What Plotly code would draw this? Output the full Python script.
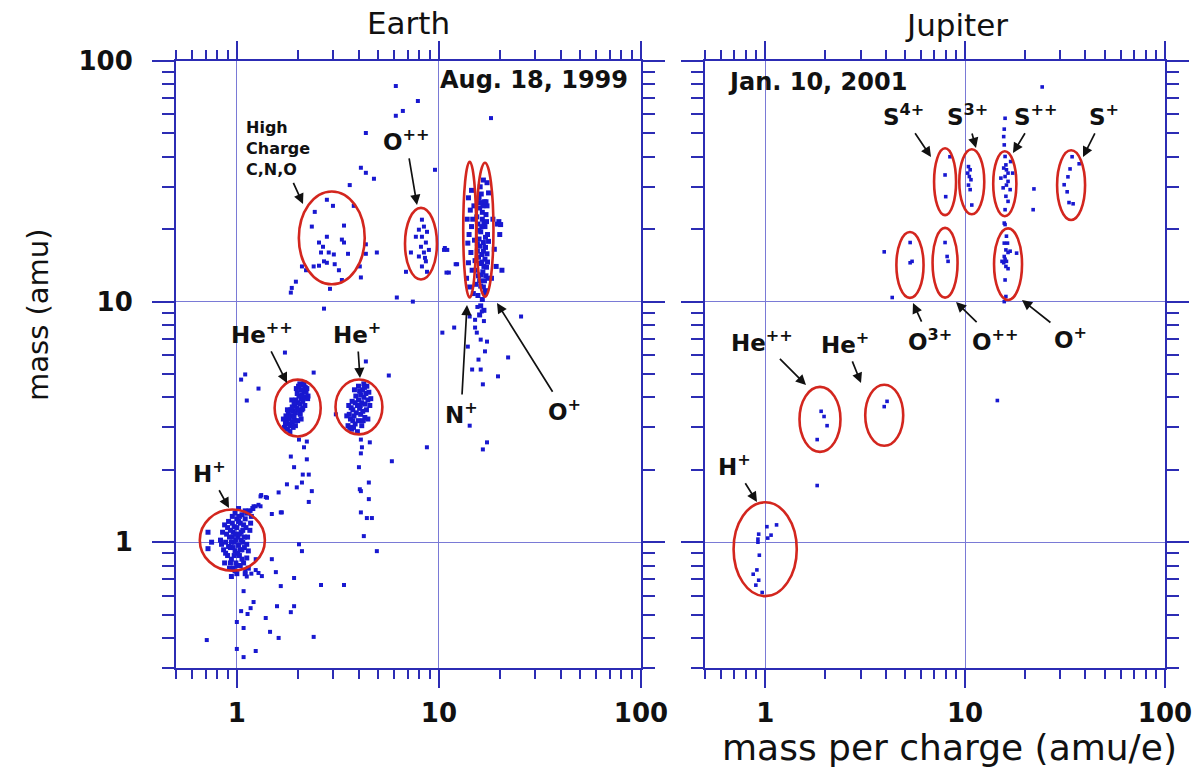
import numpy as np
import plotly.graph_objects as go

# ---------------- data ----------------
# Earth, Aug. 18, 1999 : (mass per charge [amu/e], mass [amu])
earth_hplus = [(0.85,1.10),(0.88,1.00),(0.90,1.15),(0.92,1.05),(0.93,0.95),(0.95,1.20),(0.96,1.10),
               (0.97,1.00),(0.98,0.92),(1.00,1.25),(1.00,1.15),(1.01,1.05),(1.02,0.97),(1.03,0.88),
               (1.04,1.20),(1.05,1.10),(1.06,1.30),(1.07,1.00),(1.08,1.18),(1.10,1.25),(1.12,1.32),
               (1.15,1.35),(0.90,0.88),(0.94,0.85),(0.99,0.82),(1.04,0.80),(0.92,0.78),(0.98,0.76),
               (1.08,0.82),(1.12,0.86),(0.86,0.93),(0.83,1.02),(0.95,1.28),(0.91,1.22),(1.09,0.95),
               (1.13,1.05),(1.16,1.12),(0.97,1.16),(1.01,0.90),(1.06,0.93),(0.94,1.00),(0.89,1.08),
               (1.03,1.08),(0.99,1.02),(1.05,1.02),(0.96,0.95),(1.11,1.15),(1.18,1.28),(0.87,0.82),
               (1.00,0.74),(0.94,0.72),(1.02,1.38),(0.98,1.32),(1.14,0.78),(1.10,0.74),
               (0.72,1.10),(0.75,1.00),(0.72,0.94),
               (0.84,0.98),(0.87,1.18),(0.93,1.12),(0.95,1.05),(0.97,0.88),(1.02,1.22),(1.04,0.93),
               (1.07,1.12),(1.09,1.05),(1.12,0.98),(0.91,0.96),(0.98,1.08),(1.03,1.28),(1.10,1.35),
               (1.00,0.80),(0.96,0.78),(1.06,0.85),(0.88,0.90),(1.17,1.20),(1.20,1.38),(1.14,0.92),
               (0.93,0.82)]
earth_hepp = [(1.72,3.00),(1.78,2.95),(1.80,3.10),(1.76,3.20),(1.84,3.05),(1.82,3.25),(1.88,3.15),
              (1.86,3.35),(1.80,3.40),(1.92,3.30),(1.90,3.50),(1.95,3.45),(1.85,3.55),(1.98,3.60),
              (1.93,3.70),(2.02,3.55),(2.00,3.80),(1.96,3.90),(2.05,3.75),(2.08,3.95),(2.03,4.05),
              (2.10,4.10),(2.12,3.85),(2.15,4.25),(2.07,4.30),(2.18,4.40),(2.20,4.20),(2.13,4.50),
              (1.74,3.12),(1.90,3.00),(2.00,3.20),(1.95,3.05),(2.06,3.40),(1.83,2.88),(2.10,3.55),
              (1.88,3.65),(2.17,4.00),(1.99,4.15),(1.79,3.30),(2.22,4.35),
              (1.75,3.35),(1.70,3.25),(1.92,3.80),(1.87,3.90),(2.12,3.60),(2.17,3.70),(2.25,4.05),
              (1.97,4.35),(2.02,4.45),(1.78,3.55),(2.24,3.95),(1.94,3.20),(2.08,3.25),(2.05,4.55),
              (2.15,4.60)]
earth_hep = [(3.55,3.05),(3.70,2.95),(3.85,3.10),(3.65,3.25),(3.80,3.35),(4.00,3.20),(3.90,3.45),
             (4.10,3.40),(3.75,3.55),(4.05,3.60),(4.20,3.50),(3.95,3.70),(4.15,3.80),(4.30,3.75),
             (4.00,3.90),(4.25,4.00),(4.10,4.10),(4.35,4.15),(4.20,4.30),(4.40,4.45),(4.05,4.25),
             (3.60,3.40),(3.85,3.80),(4.45,3.90),(4.30,3.30),(3.50,3.35),(4.15,3.05),(3.95,2.88),
             (4.50,4.20),(4.25,4.55),(3.78,3.00),(4.08,3.70),(3.68,3.62),(4.38,3.55),(3.88,4.05),
             (3.58,3.70),(3.72,3.85),(4.45,3.25),(4.55,3.70),(3.62,3.00),(4.00,4.45),(4.28,4.40),
             (3.82,4.30),(4.60,3.95),(3.75,3.20),(4.22,3.20)]
earth_highq = [(2.79,26.5),(2.99,25.0),(2.43,23.6),(2.35,20.5),(3.39,20.7),(2.79,18.6),(3.31,18.1),
               (3.39,17.6),(2.55,17.6),(2.67,16.9),(2.61,16.0),(2.85,16.0),(3.02,15.7),(3.55,15.8),
               (2.70,14.7),(2.79,14.5),(3.05,14.3),(2.55,14.1),(3.20,13.5),(2.10,14.0),(2.20,13.5),
               (2.40,14.0),(4.06,14.0),(4.35,17.3),(4.35,15.8),(3.79,25.0),(2.89,11.3),(3.31,12.3),
               (4.11,12.6),(4.93,16.0),(1.96,12.1),(1.87,11.4),(1.85,10.9),(2.70,9.35)]
earth_opp = [(8.24,21.9),(8.73,19.5),(8.24,18.6),(8.62,17.6),(8.15,16.9),(8.92,16.4),(8.43,16.0),
             (7.96,15.4),(8.62,14.7),(8.24,14.0),(8.73,13.3),(7.69,18.6),(7.27,16.0),(8.43,20.5),
             (7.96,19.9),(8.53,15.2),(6.87,13.3),(6.19,10.4),(7.43,10.0),(10.7,16.7),(11.0,16.4),
             (12.3,14.3),(11.2,13.2),(10.6,16.4),(12.1,14.3),(10.9,13.2)]
earth_no = [(16.2,28),(16.8,26),(15.9,24.5),(17.1,23),(16.4,22),(15.6,21),(16.9,20.5),(16.1,19.5),
            (17.4,19),(15.8,18.2),(16.6,17.6),(17.0,16.8),(15.5,16.2),(16.3,15.7),(16.9,15),
            (15.9,14.4),(17.2,13.9),(16.5,13.3),(15.7,12.8),(16.8,12.2),(16.1,11.6),(17.0,11.1),
            (15.6,10.6),(16.4,10.2),(16.0,30),(16.6,32),(17.3,25),(15.4,22.5),(16.7,21.3),
            (17.6,17.8),(16.0,17),(16.7,14),(15.3,13.5),(17.5,12.5),(16.2,12.9),(16.9,10.8),
            (15.8,27),(16.5,25),(17.0,18.5),(16.3,20.5),(15.7,15.3),(17.3,15.8),(16.6,11.5),
            (16.1,9.6),(16.7,9.2),(15.9,8.8),(19.5,21),(20.0,19),(18.5,22),(18.8,16.5),(19.2,14),
            (18.2,12.5),(20.5,13.5),(14.0,27),(14.3,24),(13.8,22),(14.5,20.5),(14.1,19),(13.9,17.5),
            (14.4,16),(14.0,14.5),(14.6,13.5),(13.7,12.5),(14.2,11.5),(14.8,10.8),(14.5,29),
            (14.9,25),(15.0,18),(15.1,14.8),(14.7,22),(15.2,11.8),(17.3,31.2),(17.6,28.3),
            (17.1,26.0),(19.8,21.5),(20.2,20.9),
            (16.4,23.5),(15.8,19.8),(17.2,21.5),(16.6,16.2),(15.9,12.2),(17.1,12.8),(16.3,14.6),
            (15.5,17.4),(17.4,14.6),(16.0,25.8)]
earth_scatter = [(1.17,1.35),(1.21,1.41),(1.28,1.43),(1.32,1.57),(1.39,1.54),(1.67,1.33),(1.31,1.55),
                 (1.41,1.53),(1.24,1.41),(1.31,1.41),(1.61,1.61),(2.35,1.63),(2.27,1.47),(1.65,1.33),
                 (1.49,1.31),(1.77,1.74),(1.98,1.69),(2.10,1.77),(2.03,2.67),(2.22,2.62),(2.15,2.48),
                 (1.85,2.27),(2.22,2.21),(1.92,2.05),(2.12,1.91),(2.27,1.91),(2.40,5.07),(1.28,4.35),
                 (5.65,4.93),(4.35,5.64),(5.85,2.17),(3.09,3.40),(1.05,4.74),(1.10,4.98),(1.12,3.88),
                 (1.73,6.14),(8.72,2.48),(4.11,2.67),(4.55,2.60),(4.16,2.48),(4.11,2.34),(4.02,2.05),
                 (4.50,1.77),(4.06,1.66),(4.11,1.63),(4.50,1.51),(4.11,1.33),(4.40,1.26),(4.66,1.26),
                 (4.25,1.06),(4.93,0.918),(2.03,0.98),(2.10,0.918),(1.49,0.85),(1.24,0.85),(1.56,0.751),
                 (1.92,0.710),(2.61,0.664),(3.39,0.664),(1.65,0.657),(1.08,0.626),(1.21,0.564),
                 (1.17,0.532),(1.05,0.517),(1.58,0.542),(1.92,0.542),(1.85,0.512),(1.13,0.503),
                 (1.39,0.484),(1.00,0.466),(1.08,0.44),(1.46,0.424),(1.61,0.40),(2.40,0.404),
                 (0.71,0.392),(1.00,0.36),(1.24,0.353),(1.08,0.333),(1.24,0.766),(1.33,0.723),
                 (1.12,0.72),(1.10,0.76),(1.18,0.74),(1.28,0.745),
                 (14.2,8.67),(15.1,7.80),(16.1,6.95),(16.9,6.21),(14.6,5.22),(16.1,5.22),(16.5,4.53),
                 (17.3,6.82),(19.6,4.89),(22.0,5.86),(25.5,8.67),(11.9,7.80),(10.4,7.43),(14.2,3.05),
                 (16.5,2.43),(17.3,2.60),(15.4,7.43),(13.9,6.50),(15.5,9.5),(16.3,9.1),(15.1,8.4),
                 (16.7,8.3),(15.7,5.74),
                 (4.11,36.0),(4.35,34.3),(4.77,32.4),(3.62,30.5),(4.35,50.2),(6.12,78.7),(7.87,68.2),
                 (6.63,62.0),(6.12,59.2),(9.56,35.3),(18.1,57.9)]

# Jupiter, Jan. 10, 2001
jup_low = [(1.02,1.16),(1.14,1.18),(1.03,1.04),(1.07,1.07),(0.928,1.08),(0.92,1.0),(0.935,0.883),
           (0.909,0.767),(0.871,0.736),(0.928,0.695),(0.898,0.663),(0.966,0.618),(0.92,1.03),
           (1.905,3.50),(1.97,3.33),(2.04,3.05),(1.82,2.67),(3.94,3.66),(4.07,3.85),(1.82,1.72),
           (14.5,3.88)]
jup_sulfur = [(7.94,33.6),(8.0,27.3),(8.4,40.0),
              (10.4,36.4),(10.6,35.3),(10.5,33.1),(10.7,32.1),(10.4,30.5),(10.6,29.2),(10.8,25.2),
              (10.3,34.2),
              (15.85,57.8),(15.7,52.1),(15.6,48.5),(15.7,44.8),(15.85,40.1),(16.0,37.0),(15.6,35.9),
              (16.1,35.3),(16.4,34.2),(15.85,33.1),(16.4,31.6),(16.1,30.5),(16.8,29.2),(16.0,27.4),
              (16.4,26.1),(15.85,24.1),(15.7,21.2),(17.3,34.2),(16.9,38.2),(15.1,32.6),(15.5,29.7),
              (24.3,78.0),(22.1,29.4),(21.9,24.1),
              (34.3,40.0),(37.2,37.4),(33.5,35.6),(32.7,33.0),(31.3,30.6),(32.4,28.6),(33.1,25.8),
              (34.7,25.5)]
jup_oxygen = [(3.94,16.1),(4.32,10.4),(5.31,17.6),(5.43,14.7),(5.31,14.5),(7.94,17.6),(8.13,15.4),
              (8.22,14.7),(15.85,20.9),(16.1,18.7),(16.3,17.5),(16.0,16.4),(16.4,16.0),(15.7,15.4),
              (15.85,15.0),(16.1,14.7),(15.6,14.5),(16.0,14.0),(16.4,13.7),(16.8,16.2),(15.85,12.3),
              (16.0,10.5),(15.7,10.0),(18.1,15.9),(15.7,17.5),(15.3,14.7)]

# ellipses: (center m/q, center mass, half-width [decades], half-height [decades])
earth_ellipses = [(2.95,18.4,0.163,0.193),(8.15,17.4,0.079,0.149),(14.2,19.9,0.032,0.282),
                  (16.9,19.9,0.042,0.278),(2.0,3.61,0.114,0.118),(4.02,3.65,0.116,0.114),
                  (0.95,1.02,0.161,0.127)]
jup_ellipses = [(7.94,31.5,0.055,0.139),(10.8,31.5,0.0625,0.135),(15.8,30.9,0.058,0.135),
                (33.9,30.5,0.07,0.145),(5.3,14.2,0.068,0.137),(7.94,14.5,0.0625,0.145),
                (16.4,14.3,0.07,0.149),(1.88,3.24,0.1025,0.135),(3.94,3.37,0.095,0.127),
                (1.0,0.935,0.158,0.195)]

tick_vals = [1, 10, 100]
tick_text = ["1", "10", "100"]

# ---------------- layout geometry ----------------
W, H = 1203, 774
ML, MR, MT, MB = 176, 38, 61, 106
PW, PH = W - ML - MR, H - MT - MB
def pxx(x): return (x - ML) / PW
def pxy(y): return (H - MB - y) / PH

BLUE = "#2c2cb4"
GRID = "#7a7ad6"
PTS = "#1818d0"
RED = "#d3261e"
FONT = "DejaVu Sans"

minor_x = [m * 10.0 ** e for e in (-1, 0, 1) for m in range(2, 10) if 0.5 <= m * 10.0 ** e <= 100]
minor_y = [m * 10.0 ** e for e in (-1, 0, 1) for m in range(2, 10) if 0.3 <= m * 10.0 ** e <= 100]

fig = go.Figure()

def add_pts(pairs, xa, ya, size):
    xs, ys = zip(*pairs)
    fig.add_trace(go.Scatter(x=xs, y=ys, xaxis=xa, yaxis=ya, mode="markers",
                             marker=dict(symbol="square", size=size, color=PTS, line=dict(width=0)),
                             showlegend=False, hoverinfo="x+y"))

for grp in (earth_hplus, earth_hepp, earth_hep, earth_no):
    add_pts(grp, "x", "y", 5)
for grp in (earth_highq, earth_opp, earth_scatter):
    add_pts(grp, "x", "y", 4)
for grp in (jup_low, jup_sulfur, jup_oxygen):
    add_pts(grp, "x2", "y2", 3.6)

shapes = []
for xr, yr, ells in (("x", "y", earth_ellipses), ("x2", "y2", jup_ellipses)):
    for cx, cy, hw, hh in ells:
        shapes.append(dict(type="circle", xref=xr, yref=yr,
                           x0=cx * 10 ** (-hw), x1=cx * 10 ** hw,
                           y0=cy * 10 ** (-hh), y1=cy * 10 ** hh,
                           line=dict(color=RED, width=2.6), layer="above"))

def xaxis(domain, anchor):
    return dict(domain=domain, anchor=anchor, type="log", range=[np.log10(0.5), 2],
                tickmode="array", tickvals=tick_vals, ticktext=tick_text,
                ticks="outside", ticklen=18, tickwidth=2, tickcolor=BLUE,
                showline=True, linecolor=BLUE, linewidth=2, mirror="ticks",
                showgrid=True, gridcolor=GRID, gridwidth=1, zeroline=False,
                ticklabelstandoff=3,
                tickfont=dict(family=FONT, size=26, color="#111", weight="bold"),
                minor=dict(tickmode="array", tickvals=minor_x, ticks="outside", ticklen=9,
                           tickwidth=1.5, tickcolor=BLUE, showgrid=False))

def yaxis(anchor, labels):
    return dict(domain=[0, 1], anchor=anchor, type="log", range=[np.log10(0.3), 2],
                tickmode="array", tickvals=tick_vals, ticktext=tick_text,
                ticks="outside", ticklen=22, tickwidth=2, tickcolor=BLUE,
                showline=True, linecolor=BLUE, linewidth=2, mirror="ticks",
                showgrid=True, gridcolor=GRID, gridwidth=1, zeroline=False,
                showticklabels=labels, ticklabelstandoff=14,
                tickfont=dict(family=FONT, size=26, color="#111", weight="bold"),
                minor=dict(tickmode="array", tickvals=minor_y, ticks="outside", ticklen=12,
                           tickwidth=1.5, tickcolor=BLUE, showgrid=False))

ann = []
def text(x, y, t, size=22, bold=True, xanchor="center", **kw):
    ann.append(dict(x=pxx(x), y=pxy(y), xref="paper", yref="paper", text=t, showarrow=False,
                    xanchor=xanchor, yanchor="middle",
                    font=dict(family=FONT, size=size, color="#111", weight="bold" if bold else "normal"),
                    **kw))

def label_arrow(t, pos, tip, size=23, **kw):
    ann.append(dict(x=pxx(tip[0]), y=pxy(tip[1]), xref="paper", yref="paper", text=t,
                    showarrow=True, ax=pos[0] - tip[0], ay=pos[1] - tip[1],
                    axref="pixel", ayref="pixel", arrowhead=2, arrowsize=1.2,
                    arrowwidth=1.7, arrowcolor="#111", standoff=0, startstandoff=2,
                    font=dict(family=FONT, size=size, color="#111", weight="bold"), **kw))

# titles
text(408, 23, "Earth", size=31, bold=False)
text(956, 25, "Jupiter", size=31, bold=False)
text(949, 747, "mass per charge (amu/e)", size=36, bold=False)
ann.append(dict(x=pxx(38), y=pxy(315), xref="paper", yref="paper", text="mass (amu)",
                textangle=-90, showarrow=False, xanchor="center", yanchor="middle",
                font=dict(family=FONT, size=29, color="#111")))
text(630, 80, "Aug. 18, 1999", size=24, xanchor="right")
text(726, 82, "Jan. 10, 2001", size=24, xanchor="left")

# labels with arrows: (text, label centre px, arrow tip px)
labels = [
    ("O<sup>++</sup>", (406, 140), (417, 205)),
    ("He<sup>++</sup>", (262, 333), (287, 383)),
    ("He<sup>+</sup>", (357, 333), (360, 378)),
    ("H<sup>+</sup>", (209, 472), (229, 508)),
    ("N<sup>+</sup>", (461, 413), (467, 305)),
    ("O<sup>+</sup>", (564, 410), (497, 303)),
    ("S<sup>4+</sup>", (903, 115), (931, 157)),
    ("S<sup>3+</sup>", (967, 115), (976, 148)),
    ("S<sup>++</sup>", (1036, 115), (1013, 153)),
    ("S<sup>+</sup>", (1104, 115), (1083, 157)),
    ("O<sup>3+</sup>", (930, 340), (913, 303)),
    ("O<sup>++</sup>", (995, 340), (956, 302)),
    ("O<sup>+</sup>", (1070, 338), (1022, 300)),
    ("He<sup>++</sup>", (762, 341), (806, 385)),
    ("He<sup>+</sup>", (845, 343), (861, 383)),
    ("H<sup>+</sup>", (734, 465), (757, 502)),
]
for t, pos, tip in labels:
    label_arrow(t, pos, tip)
label_arrow("High<br>Charge<br>C,N,O", (278, 149), (303, 204), size=16, align="left")

fig.update_layout(
    width=W, height=H, margin=dict(l=ML, r=MR, t=MT, b=MB),
    paper_bgcolor="white", plot_bgcolor="white",
    xaxis=xaxis([0, 465 / PW], "y"),
    xaxis2=xaxis([529 / PW, 1], "y2"),
    yaxis=yaxis("x", True),
    yaxis2=yaxis("x2", False),
    shapes=shapes, annotations=ann, showlegend=False,
)

fig.write_html("out.html")
